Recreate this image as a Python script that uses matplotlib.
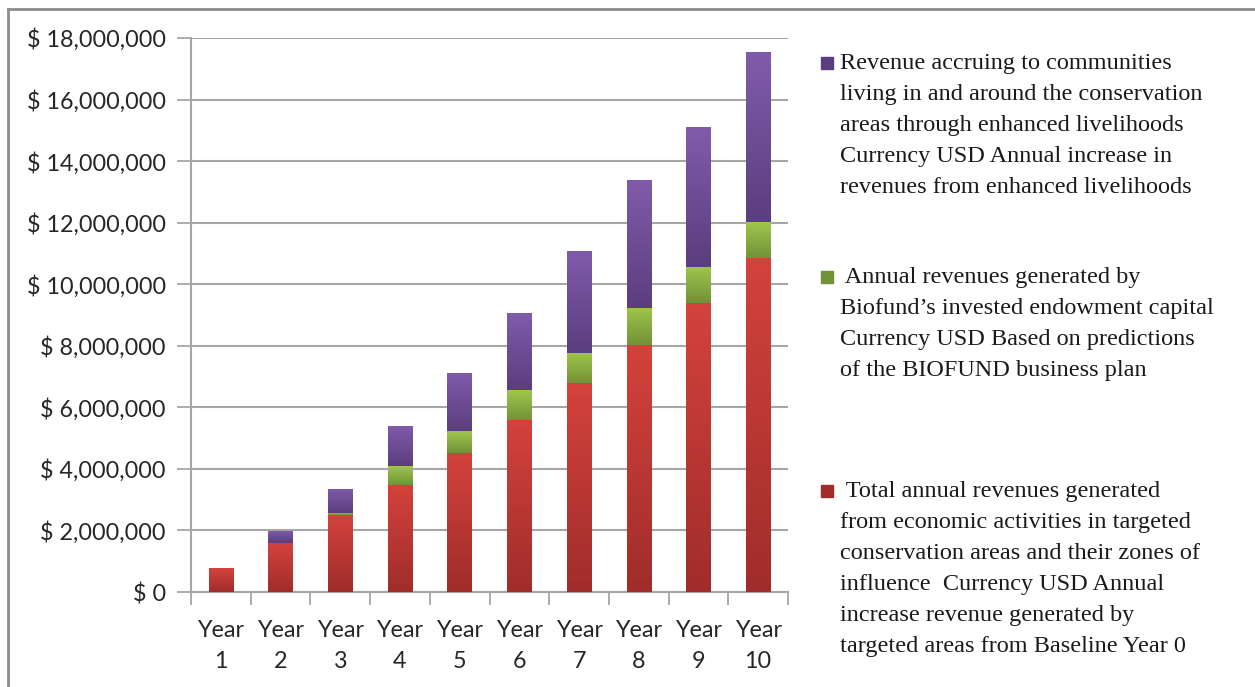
import matplotlib
matplotlib.use("Agg")
import matplotlib.pyplot as plt
import numpy as np
from matplotlib.colors import LinearSegmentedColormap
from matplotlib.lines import Line2D
from matplotlib.patches import Rectangle
from matplotlib.ticker import FuncFormatter

# data (USD)
years = ["Year\n1", "Year\n2", "Year\n3", "Year\n4", "Year\n5",
         "Year\n6", "Year\n7", "Year\n8", "Year\n9", "Year\n10"]
targeted_areas = [770000, 1590000, 2490000, 3480000, 4530000,
                  5600000, 6780000, 8020000, 9390000, 10860000]
endowment = [0, 0, 70000, 610000, 690000, 950000, 990000, 1210000, 1170000, 1150000]
livelihoods = [0, 400000, 790000, 1300000, 1880000, 2500000, 3300000, 4170000, 4540000, 5550000]

label_red = (" Total annual revenues generated\nfrom economic activities in targeted\n"
             "conservation areas and their zones of\ninfluence  Currency USD Annual\n"
             "increase revenue generated by\ntargeted areas from Baseline Year 0")
label_green = (" Annual revenues generated by\nBiofund\u2019s invested endowment capital\n"
               "Currency USD Based on predictions\nof the BIOFUND business plan")
label_purple = ("Revenue accruing to communities\nliving in and around the conservation\n"
                "areas through enhanced livelihoods\nCurrency USD Annual increase in\n"
                "revenues from enhanced livelihoods")

# (top colour, bottom colour) for the gradient fill
red_cols = ("#d4423c", "#a02d2b")
green_cols = ("#9fc64c", "#739237")
purple_cols = ("#805bab", "#5b3e7e")

W, H = 1255, 687
fig = plt.figure(figsize=(W / 100, H / 100), dpi=100)
ax = fig.add_axes([191 / W, 1 - 592 / H, (788 - 191) / W, (592 - 38) / H])

x = np.arange(1, len(years) + 1)
width = 0.41
grid_col = "#a6a6a6"


def gradient_bars(x, heights, bottoms, cols):
    cmap = LinearSegmentedColormap.from_list("g", [cols[1], cols[0]])
    bars = ax.bar(x, heights, width, bottom=bottoms, color=cols[0], zorder=3, linewidth=0)
    for b in bars:
        if b.get_height() <= 0:
            continue
        x0, y0 = b.get_x(), b.get_y()
        im = ax.imshow(np.linspace(0, 1, 64).reshape(-1, 1), cmap=cmap, origin="lower",
                       extent=[x0, x0 + b.get_width(), y0, y0 + b.get_height()],
                       aspect="auto", zorder=4)
        im.set_clip_path(b)
    return bars


bottom2 = np.array(targeted_areas) + np.array(endowment)
gradient_bars(x, targeted_areas, 0, red_cols)
gradient_bars(x, endowment, targeted_areas, green_cols)
gradient_bars(x, livelihoods, bottom2, purple_cols)

ax.set_xlim(0.5, len(years) + 0.5)
ax.set_ylim(0, 18000000)
ax.set_yticks(np.arange(0, 18000001, 2000000))
ax.yaxis.set_major_formatter(FuncFormatter(lambda v, p: f"$ {v:,.0f}"))
ax.yaxis.grid(True, color=grid_col, linewidth=1.5, zorder=0)
ax.set_axisbelow(True)

ax.set_xticks(x)
ax.set_xticklabels(years, linespacing=1.62)
ax.set_xticks(np.arange(0.5, len(years) + 1, 1), minor=True)
ax.tick_params(axis="x", which="major", length=0, pad=20)
ax.tick_params(axis="x", which="minor", length=9, width=1.3, color=grid_col, direction="out")
ax.tick_params(axis="y", length=10, width=1.3, color=grid_col, direction="out", pad=8)

for lab in ax.get_xticklabels() + ax.get_yticklabels():
    lab.set_fontfamily("Lato")
    lab.set_fontsize(16.8)
    lab.set_color("#262626")

for s in ["top", "right"]:
    ax.spines[s].set_visible(False)
for s in ["left", "bottom"]:
    ax.spines[s].set_color(grid_col)
    ax.spines[s].set_linewidth(1.5)

# legend drawn by hand: the entries are spread down the right side
legend_items = [(label_purple, purple_cols, 53), (label_green, green_cols, 267), (label_red, red_cols, 481)]
for text, cols, ytop in legend_items:
    fig.add_artist(Rectangle((821 / W, 1 - (ytop + 16) / H), 12 / W, 12 / H,
                             transform=fig.transFigure, color=cols[1]))
    fig.text(840 / W, 1 - ytop / H, text, ha="left", va="top", fontsize=17.5,
             family="Liberation Serif", color="#1a1a1a", linespacing=1.63)

# frame around the picture
fig.add_artist(Line2D([8 / W, 1], [1 - 9 / H, 1 - 9 / H], transform=fig.transFigure,
                      color="#8c8c8c", linewidth=2))
fig.add_artist(Line2D([8 / W, 8 / W], [0, 1 - 9 / H], transform=fig.transFigure,
                      color="#8c8c8c", linewidth=2))

fig.savefig("out.png", dpi=100)
